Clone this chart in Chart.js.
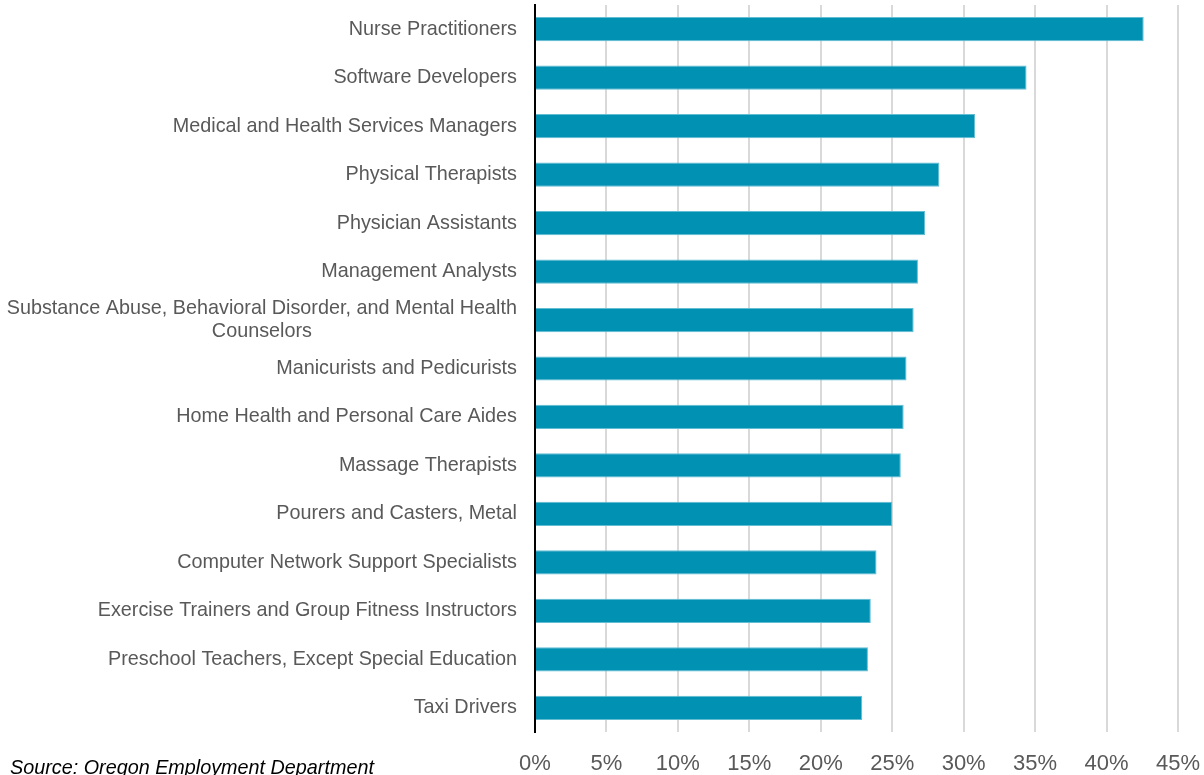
<!DOCTYPE html>
<html lang="en">
<head>
    <meta charset="UTF-8">
    <title>Fastest Growing Occupations</title>
    <script src="https://cdn.jsdelivr.net/npm/chart.js"></script>
    <style>
        html, body { margin: 0; padding: 0; background: #fff; }
        .chart-container { position: relative; width: 1204px; height: 775px; }
    </style>
</head>
<body>
    <div class="chart-container">
        <canvas id="growthChart"></canvas>
    </div>

    <script>
        // Occupations, top to bottom
        const occupations = [
            'Nurse Practitioners',
            'Software Developers',
            'Medical and Health Services Managers',
            'Physical Therapists',
            'Physician Assistants',
            'Management Analysts',
            ['Substance Abuse, Behavioral Disorder, and Mental Health', 'Counselors'],
            'Manicurists and Pedicurists',
            'Home Health and Personal Care Aides',
            'Massage Therapists',
            'Pourers and Casters, Metal',
            'Computer Network Support Specialists',
            'Exercise Trainers and Group Fitness Instructors',
            'Preschool Teachers, Except Special Education',
            'Taxi Drivers'
        ];

        // Growth rate in percent
        const growthRates = [42.6, 34.4, 30.8, 28.3, 27.3, 26.8, 26.5, 26.0, 25.8, 25.6, 25.0, 23.9, 23.5, 23.3, 22.9];

        const xTicks = [0, 5, 10, 15, 20, 25, 30, 35, 40, 45];
        const sourceNote = 'Source: Oregon Employment Department';

        const labelFont = '19.8px "Liberation Sans", Arial, sans-serif';

        // draw the category labels ourselves so the wrapped one is centred like the original
        const categoryLabels = {
            id: 'categoryLabels',
            afterDraw(chart) {
                const ctx = chart.ctx;
                const yScale = chart.scales.y;
                const right = yScale.right - 18;
                ctx.save();
                ctx.font = labelFont;
                ctx.fillStyle = '#595959';
                ctx.textBaseline = 'middle';
                occupations.forEach((label, i) => {
                    const y = yScale.getPixelForTick(i);
                    if (Array.isArray(label)) {
                        const widest = Math.max(...label.map(l => ctx.measureText(l).width));
                        const cx = right - widest / 2;
                        const lineH = 23;
                        const top = y - (label.length - 1) * lineH / 2;
                        ctx.textAlign = 'center';
                        label.forEach((l, j) => ctx.fillText(l, cx, top + j * lineH));
                    } else {
                        ctx.textAlign = 'right';
                        ctx.fillText(label, right, y);
                    }
                });
                ctx.restore();
            }
        };

        const sourceText = {
            id: 'sourceText',
            afterDraw(chart) {
                const ctx = chart.ctx;
                ctx.save();
                ctx.font = 'italic 19.8px "Liberation Sans", Arial, sans-serif';
                ctx.fillStyle = '#000';
                ctx.textAlign = 'left';
                ctx.textBaseline = 'alphabetic';
                ctx.fillText(sourceNote, 10, 774);
                ctx.restore();
            }
        };

        const ctx = document.getElementById('growthChart').getContext('2d');
        const growthChart = new Chart(ctx, {
            type: 'bar',
            data: {
                labels: occupations,
                datasets: [{
                    label: 'Growth rate',
                    data: growthRates,
                    backgroundColor: '#0091b3',
                    borderColor: '#62bdd3',
                    borderWidth: 1,
                    borderSkipped: 'start',
                    barPercentage: 0.5,
                    categoryPercentage: 1.0
                }]
            },
            options: {
                indexAxis: 'y',
                responsive: true,
                maintainAspectRatio: false,
                animation: false,
                layout: {
                    padding: { top: 5, right: 26, left: 0, bottom: 0 }
                },
                scales: {
                    x: {
                        min: 0,
                        max: 45,
                        afterBuildTicks: (scale) => {
                            scale.ticks = xTicks.map(v => ({ value: v }));
                        },
                        afterFit: (scale) => {
                            scale.height = 43;
                            scale.paddingLeft = 0;
                            scale.paddingRight = 0;
                        },
                        grid: {
                            color: '#d9d9d9',
                            lineWidth: 2,
                            drawTicks: false
                        },
                        border: { display: false },
                        ticks: {
                            padding: 19,
                            color: '#595959',
                            font: { family: '"Liberation Sans", Arial, sans-serif', size: 22 },
                            callback: (value) => value + '%'
                        }
                    },
                    y: {
                        afterFit: (scale) => { scale.width = 535; },
                        grid: { display: false },
                        border: { display: true, color: '#000', width: 2 },
                        ticks: { display: false }
                    }
                },
                plugins: {
                    legend: { display: false },
                    tooltip: { enabled: false }
                }
            },
            plugins: [categoryLabels, sourceText]
        });
    </script>
</body>
</html>
